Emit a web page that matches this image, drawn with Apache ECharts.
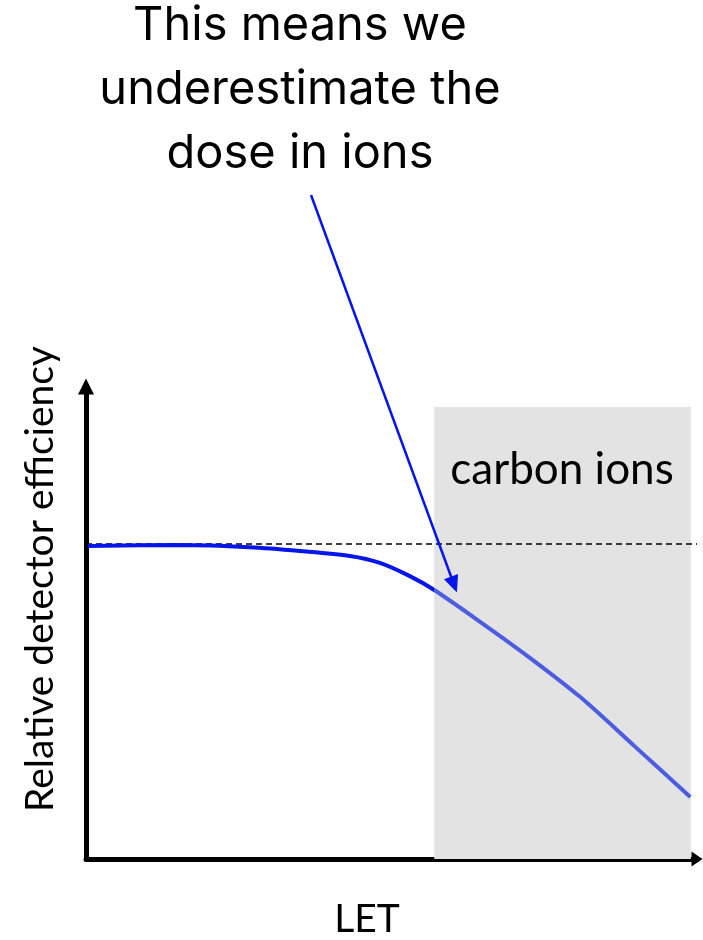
<!DOCTYPE html>
<html>
<head>
<meta charset="utf-8">
<script src="https://cdn.jsdelivr.net/npm/echarts@6/dist/echarts.min.js"></script>
<style>
  html, body { margin: 0; padding: 0; background: #fff; }
  #chart { width: 703px; height: 940px; }
</style>
</head>
<body>
<div id="chart"></div>
<script>
// =====================
// 数据
// =====================

const letValues = [0.03, 1.54, 2.68, 3.5, 4.32, 4.81, 5.3, 5.7, 6.45, 7.27, 8.09, 8.99, 9.89];
const efficiency = [0.994, 0.997, 0.99, 0.978, 0.962, 0.94, 0.898, 0.854, 0.753, 0.638, 0.514, 0.356, 0.197];
const carbonRange = [5.7, 9.9];
const referenceLevel = 1.0;
const arrowTarget = [6.07, 0.846];

const darkBlue = "#0616e8";
const lightBlue = "#4d5de0";

// =====================
// 初始化
// =====================

const chart = echarts.init(document.getElementById("chart"));

const lineData = letValues.map((x, i) => [x, efficiency[i]]);

chart.setOption({
  animation: false,

  grid: {
    left: 86,
    right: 6,
    top: 386.5,
    bottom: 81,
  },

  xAxis: {
    type: "value",
    min: 0,
    max: 10,
    axisLine: {
      show: true,
      symbol: ["none", "triangle"],
      symbolSize: [15, 11],
      lineStyle: { color: "#000", width: 5 },
    },
    axisTick: { show: false },
    axisLabel: { show: false },
    splitLine: { show: false },
  },

  yAxis: {
    type: "value",
    min: 0,
    max: 1.5,
    axisLine: {
      show: true,
      symbol: ["none", "triangle"],
      symbolSize: [16, 16],
      lineStyle: { color: "#000", width: 5 },
    },
    axisTick: { show: false },
    axisLabel: { show: false },
    splitLine: { show: false },
  },

  series: [
    {
      type: "line",
      data: lineData,
      smooth: 0.3,
      showSymbol: false,
      z: 5,
      lineStyle: { width: 4, color: darkBlue },
      markArea: {
        silent: true,
        itemStyle: { color: "#e3e3e3" },
        data: [[{ coord: [carbonRange[0], 0] }, { coord: [carbonRange[1], 1.435] }]],
      },
      markLine: {
        silent: true,
        symbol: "none",
        label: { show: false },
        lineStyle: { color: "#000", type: [6, 4], width: 1.5 },
        data: [{ yAxis: referenceLevel }],
      },
    },
  ],
});

// =====================
// 注释
// =====================

const tip = chart.convertToPixel({ gridIndex: 0 }, arrowTarget);
const leftPx = chart.convertToPixel({ gridIndex: 0 }, [0, 0]);
const rightPx = chart.convertToPixel({ gridIndex: 0 }, [10, 0]);
const splitPx = chart.convertToPixel({ gridIndex: 0 }, [carbonRange[0], 0]);
const cut = (splitPx[0] - leftPx[0]) / (rightPx[0] - leftPx[0]);

function arrowHead(x0, y0, x1, y1) {
  const dx = x1 - x0;
  const dy = y1 - y0;
  const len = Math.sqrt(dx * dx + dy * dy);
  const ux = dx / len;
  const uy = dy / len;
  const bx = x1 - ux * 17;
  const by = y1 - uy * 17;
  return [
    [x1, y1],
    [bx - uy * 7.5, by + ux * 7.5],
    [bx + uy * 7.5, by - ux * 7.5],
  ];
}

const arrowStart = [311, 195];

chart.setOption({
  series: [
    {
      lineStyle: {
        color: new echarts.graphic.LinearGradient(
          leftPx[0], 0, rightPx[0], 0,
          [
            { offset: 0, color: darkBlue },
            { offset: cut, color: darkBlue },
            { offset: cut, color: lightBlue },
            { offset: 1, color: lightBlue },
          ],
          true
        ),
      },
    },
  ],
  graphic: [
    {
      type: "text",
      x: 300,
      y: -6,
      style: {
        text: "This means we\nunderestimate the\ndose in ions",
        font: "47px Inter",
        fill: "#000",
        align: "center",
        lineHeight: 64,
      },
    },
    {
      type: "line",
      shape: { x1: arrowStart[0], y1: arrowStart[1], x2: tip[0] - 4, y2: tip[1] - 11 },
      style: { stroke: darkBlue, lineWidth: 2.5 },
      z: 10,
    },
    {
      type: "polygon",
      z: 10,
      shape: { points: arrowHead(arrowStart[0], arrowStart[1], tip[0], tip[1]) },
      style: { fill: darkBlue },
    },
    {
      type: "text",
      x: 562,
      y: 470,
      style: {
        text: "carbon ions",
        font: "44px Lato",
        fill: "#000",
        align: "center",
        verticalAlign: "middle",
      },
      z: 10,
    },
    {
      type: "text",
      x: 40,
      y: 579,
      rotation: Math.PI / 2,
      style: {
        text: "Relative detector efficiency",
        font: "39px Lato",
        fill: "#000",
        align: "center",
        verticalAlign: "middle",
      },
    },
    {
      type: "text",
      x: 367,
      y: 919,
      style: {
        text: "LET",
        font: "39px Lato",
        fill: "#000",
        align: "center",
        verticalAlign: "middle",
      },
    },
  ],
});
</script>
</body>
</html>
